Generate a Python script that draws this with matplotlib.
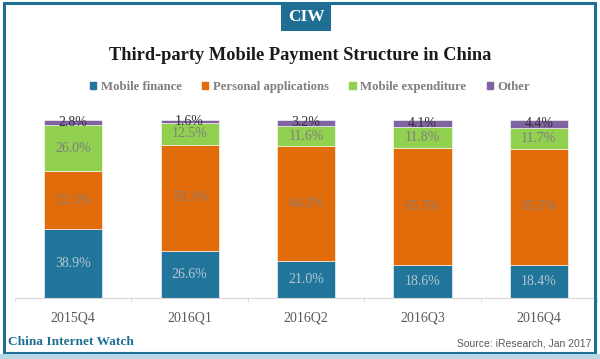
import numpy as np
import matplotlib.pyplot as plt
from matplotlib.patches import Rectangle, Patch

quarters = ['2015Q4', '2016Q1', '2016Q2', '2016Q3', '2016Q4']
mobile_finance = [38.9, 26.6, 21.0, 18.6, 18.4]
personal_apps = [32.3, 59.3, 64.2, 65.5, 65.5]
mobile_expenditure = [26.0, 12.5, 11.6, 11.8, 11.7]
other = [2.8, 1.6, 3.2, 4.1, 4.4]

series = [
    ('Mobile finance', mobile_finance, '#21759b', '#b4c6d2'),
    ('Personal applications', personal_apps, '#e36c0a', '#8c7b70'),
    ('Mobile expenditure', mobile_expenditure, '#92d050', '#7f7f7f'),
    ('Other', other, '#8064a2', '#333333'),
]

serif = 'Liberation Serif'
fig = plt.figure(figsize=(6.0, 3.59), dpi=100)
W, H = 600, 359

ax = fig.add_axes([15 / W, 61 / H, 582 / W, 178 / H])
x = np.arange(len(quarters))
bottom = np.zeros(len(quarters))
for name, vals, col, tcol in series:
    vals = np.array(vals)
    ax.bar(x, vals, 0.5, bottom=bottom, color=col, label=name,
           edgecolor='white', linewidth=0.4)
    for xi, b, v in zip(x, bottom, vals):
        ax.text(xi, b + v / 2, f'{v:.1f}%', ha='center', va='center',
                fontsize=10, color=tcol, family=serif)
    bottom += vals

ax.set_xlim(-0.5, 4.5)
ax.set_ylim(0, 100)
ax.set_yticks([])
for s in ['left', 'right', 'top']:
    ax.spines[s].set_visible(False)
ax.spines['bottom'].set_color('#d9d9d9')
ax.spines['bottom'].set_linestyle((0, (1, 1)))
ax.set_xticks(x)
ax.set_xticklabels(quarters, family=serif, fontsize=10, color='#595959')
ax.tick_params(axis='x', length=0, pad=10)
ax.set_xticks(np.arange(-0.5, 5, 1), minor=True)
ax.tick_params(axis='x', which='minor', length=3, color='#d9d9d9')

# frame
fig.patches.append(Rectangle((4 / W, 6 / H), 591 / W, 350 / H, transform=fig.transFigure,
                             fill=False, edgecolor='#1f6f94', linewidth=2.2))
fig.patches.append(Rectangle((0, 0), 1, 5 / H, transform=fig.transFigure,
                             facecolor='#b7d6e6', edgecolor='none'))
# CIW badge
fig.patches.append(Rectangle((281 / W, (H - 31) / H), 50 / W, 28 / H, transform=fig.transFigure,
                             facecolor='#1f6f94', edgecolor='none'))
fig.text(306 / W, 1 - 17 / H, 'CIW', ha='center', va='center', color='white',
         fontsize=12.5, fontweight='bold', family=serif)

fig.text(0.5, 1 - 55 / H, 'Third-party Mobile Payment Structure in China', ha='center',
         va='center', fontsize=13.2, fontweight='bold', family=serif, color='#1a1a1a')

handles = [Patch(color=c) for _, _, c, _ in series]
leg = fig.legend(handles, [s[0] for s in series], loc='center', ncol=4,
                 bbox_to_anchor=(310 / W, 1 - 87 / H), frameon=False,
                 handlelength=0.5, handleheight=0.5, handletextpad=0.35,
                 columnspacing=1.6, borderpad=0, borderaxespad=0,
                 prop={'family': serif, 'weight': 'bold', 'size': 9.2})
for t in leg.get_texts():
    t.set_color('#7f7f7f')

fig.text(8 / W, 1 - 342 / H, 'China Internet Watch', ha='left', va='center',
         fontsize=9.6, fontweight='bold', family=serif, color='#1f6f94')
fig.text(591 / W, 1 - 344 / H, 'Source: iResearch, Jan 2017', ha='right', va='center',
         fontsize=7.5, family='Liberation Sans', color='#595959')

fig.savefig('out.png', dpi=100)
